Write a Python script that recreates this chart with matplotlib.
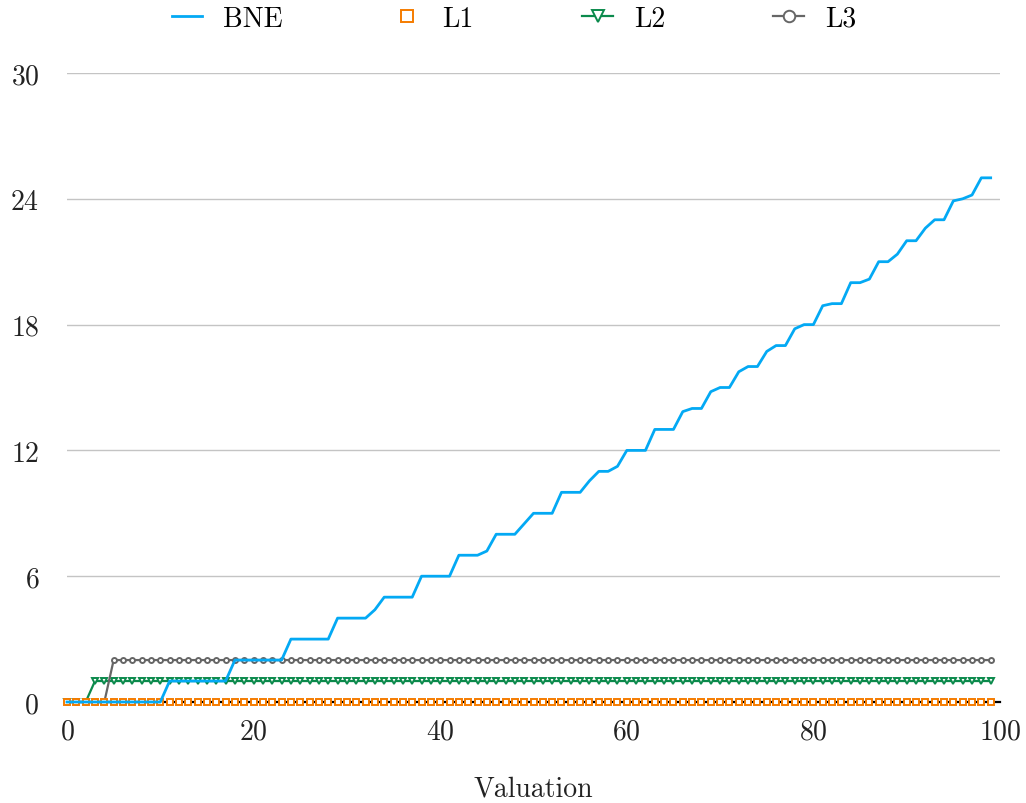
import numpy as np
from matplotlib import pyplot as plt

plt.rcParams['font.family'] = ['cmr10', 'DejaVu Serif']
plt.rcParams['axes.formatter.use_mathtext'] = True

valuation = np.arange(100)

bne = [0] * 11 + [1] * 7 + [2] * 6 + [3] * 5 + [4] * 4 + [4.4] + [5] * 4 + [6] * 4 + \
    [7, 7, 7, 7.2, 8, 8, 8, 8.5, 9, 9, 9, 10, 10, 10, 10.55, 11, 11, 11.24,
     12, 12, 12, 13, 13, 13, 13.85, 14, 14, 14.8, 15, 15, 15.75, 16, 16, 16.72,
     17, 17, 17.8, 18, 18, 18.9, 19, 19, 20, 20, 20.17, 21, 21, 21.36, 22, 22,
     22.6, 23, 23, 23.9, 24, 24.18, 25, 25]
l1 = [0] * 100
l2 = [0] * 3 + [1] * 97
l3 = [0] * 5 + [2] * 95

fig = plt.figure(figsize=(10.26, 8.04), dpi=100)
ax = fig.add_axes([67 / 1026, 101 / 804, 933 / 1026, 629 / 804])

# L1 sits over L2/L3 at zero, BNE on top of everything
ax.plot(valuation, l1, color='#f57c00', linestyle='none', marker='s', markersize=3.8,
        markerfacecolor='white', markeredgewidth=1.4, label='L1', zorder=3.5, clip_on=False)
ax.plot(valuation, l2, color='#0b8a4c', linewidth=1.6, marker='v', markersize=4,
        markerfacecolor='white', markeredgewidth=1.4, label='L2', zorder=3, clip_on=False)
ax.plot(valuation, l3, color='#666666', linewidth=1.6, marker='o', markersize=3.6,
        markerfacecolor='white', markeredgewidth=1.4, label='L3', zorder=3, clip_on=False)
ax.plot(valuation, bne, color='#03a9f4', linewidth=2.0, label='BNE', zorder=4, clip_on=False)

ax.set_xlim(0, 100)
ax.set_ylim(0, 30)
ax.set_xticks([0, 20, 40, 60, 80, 100])
ax.set_yticks([0, 6, 12, 18, 24, 30])
ax.tick_params(axis='both', length=0, labelsize=20, colors='#222222')
ax.tick_params(axis='y', pad=20)
ax.tick_params(axis='x', pad=12)
ax.grid(axis='y', color='#c4c4c4', linewidth=1)
ax.set_axisbelow(True)
for side in ['top', 'right', 'left']:
    ax.spines[side].set_visible(False)
ax.spines['bottom'].set_color('black')
ax.spines['bottom'].set_linewidth(1.6)
ax.spines['bottom'].set_zorder(2)

ax.set_xlabel('Valuation', fontsize=20, color='#222222', labelpad=22)

handles, labels = ax.get_legend_handles_labels()
order = [3, 0, 1, 2]
ax.legend([handles[i] for i in order], [labels[i] for i in order],
          loc='upper center', bbox_to_anchor=(0.479, 1.147), ncol=4, frameon=False,
          fontsize=20, markerscale=2.3, handlelength=1.1, columnspacing=3.9, handletextpad=0.75)

plt.savefig('out.png', dpi=100)
